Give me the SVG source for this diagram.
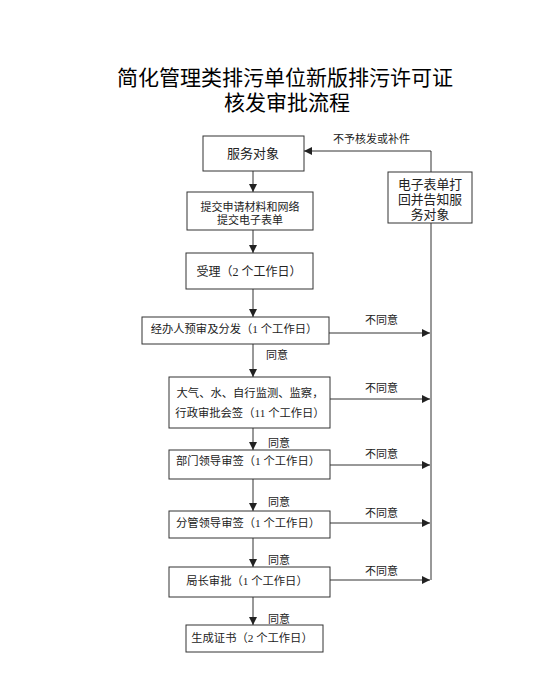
<svg xmlns="http://www.w3.org/2000/svg" width="553" height="679" viewBox="0 0 553 679">
<style>
.box{fill:#fff;stroke:#333;stroke-width:1}
.t{font-family:"Liberation Serif","Noto Sans CJK SC",serif;fill:#222;text-anchor:middle}
.l{font-family:"Liberation Serif","Noto Sans CJK SC",serif;fill:#222;font-size:11px}
.title{font-family:"Noto Sans CJK SC","Noto Sans",sans-serif;fill:#000;font-size:21px;text-anchor:middle}
.c{fill:none;stroke:#333;stroke-width:1}
</style>
<defs>
<marker id="ah" viewBox="0 0 8 8" refX="8" refY="4" markerWidth="8" markerHeight="8" markerUnits="userSpaceOnUse" orient="auto">
<path d="M0,0 L8,4 L0,8 Z" fill="#222"/>
</marker>
</defs>
<g id="title">
<text class="title" x="285" y="85">简化管理类排污单位新版排污许可证</text>
<text class="title" x="287" y="110">核发审批流程</text>
</g>
<g id="connectors">
<line class="c" x1="253" y1="171" x2="253" y2="192" marker-end="url(#ah)"/>
<line class="c" x1="253" y1="230" x2="253" y2="253" marker-end="url(#ah)"/>
<line class="c" x1="253" y1="289" x2="253" y2="317" marker-end="url(#ah)"/>
<line class="c" x1="253" y1="344" x2="253" y2="377" marker-end="url(#ah)"/>
<line class="c" x1="253" y1="428" x2="253" y2="450" marker-end="url(#ah)"/>
<line class="c" x1="253" y1="479" x2="253" y2="511" marker-end="url(#ah)"/>
<line class="c" x1="253" y1="538" x2="253" y2="567" marker-end="url(#ah)"/>
<line class="c" x1="253" y1="597" x2="253" y2="625" marker-end="url(#ah)"/>
<line class="c" x1="329" y1="333" x2="430" y2="333" marker-end="url(#ah)"/>
<line class="c" x1="330" y1="399" x2="430" y2="399" marker-end="url(#ah)"/>
<line class="c" x1="330" y1="465" x2="430" y2="465" marker-end="url(#ah)"/>
<line class="c" x1="330" y1="523" x2="430" y2="523" marker-end="url(#ah)"/>
<line class="c" x1="330" y1="580" x2="430" y2="580" marker-end="url(#ah)"/>
<polyline class="c" points="431,580 431,151 304,151" marker-end="url(#ah)"/>
<text class="l" x="333" y="143">不予核发或补件</text>
<text class="l" x="365" y="324">不同意</text>
<text class="l" x="365" y="392">不同意</text>
<text class="l" x="365" y="458">不同意</text>
<text class="l" x="365" y="517">不同意</text>
<text class="l" x="365" y="575">不同意</text>
<text class="l" x="266" y="359">同意</text>
<text class="l" x="268" y="447">同意</text>
<text class="l" x="268" y="506">同意</text>
<text class="l" x="268" y="564">同意</text>
<text class="l" x="268" y="623">同意</text>
</g>
<g id="n1">
<rect class="box" x="203" y="136" width="101" height="35"/>
<text class="t" x="253" y="158" font-size="13">服务对象</text>
</g>
<g id="n2">
<rect class="box" x="187" y="192" width="126" height="38"/>
<text class="t" x="250" y="211" font-size="11">提交申请材料和网络</text>
<text class="t" x="250" y="224" font-size="11">提交电子表单</text>
</g>
<g id="n3">
<rect class="box" x="186" y="253" width="127" height="36"/>
<text class="t" x="249" y="276" font-size="12">受理（2 个工作日）</text>
</g>
<g id="n4">
<rect class="box" x="142" y="317" width="187" height="27"/>
<text class="t" x="234" y="333" font-size="11.3">经办人预审及分发（1 个工作日）</text>
</g>
<g id="n5">
<rect class="box" x="169" y="377" width="161" height="51"/>
<text class="t" x="250" y="397" font-size="11.3">大气、水、自行监测、监察，</text>
<text class="t" x="250" y="417" font-size="11.3">行政审批会签（11 个工作日）</text>
</g>
<g id="n6">
<rect class="box" x="169" y="450" width="161" height="29"/>
<text class="t" x="248" y="465" font-size="11.3">部门领导审签（1 个工作日）</text>
</g>
<g id="n7">
<rect class="box" x="169" y="511" width="161" height="27"/>
<text class="t" x="248" y="527" font-size="11.3">分管领导审签（1 个工作日）</text>
</g>
<g id="n8">
<rect class="box" x="169" y="567" width="161" height="30"/>
<text class="t" x="247" y="585" font-size="11.3">局长审批（1 个工作日）</text>
</g>
<g id="n9">
<rect class="box" x="186" y="625" width="137" height="27"/>
<text class="t" x="252" y="642" font-size="11.3">生成证书（2 个工作日）</text>
</g>
<g id="n10">
<rect class="box" x="388" y="172" width="84" height="51"/>
<text class="t" x="430" y="189" font-size="12.8">电子表单打</text>
<text class="t" x="430" y="204" font-size="12.8">回并告知服</text>
<text class="t" x="430" y="219" font-size="12.8">务对象</text>
</g>
</svg>
